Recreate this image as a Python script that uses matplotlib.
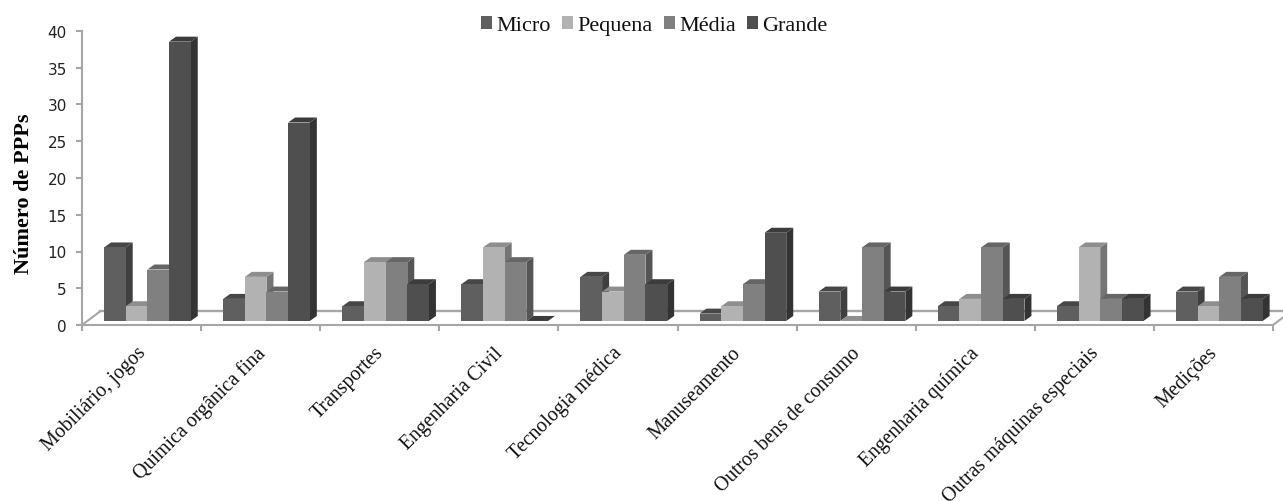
import numpy as np
import matplotlib.pyplot as plt
from matplotlib.patches import Polygon, Rectangle

categories = ['Mobiliário, jogos', 'Química orgânica fina', 'Transportes', 'Engenharia Civil',
              'Tecnologia médica', 'Manuseamento', 'Outros bens de consumo', 'Engenharia química',
              'Outras máquinas especiais', 'Medições']
sizes = ['Micro', 'Pequena', 'Média', 'Grande']
micro = [10, 3, 2, 5, 6, 1, 4, 2, 2, 4]
pequena = [2, 6, 8, 10, 4, 2, 0, 3, 10, 2]
media = [7, 4, 8, 8, 9, 5, 10, 10, 3, 6]
grande = [38, 27, 5, 0, 5, 12, 4, 3, 3, 3]
series = [micro, pequena, media, grande]

front = ['#5f5f5f', '#b2b2b2', '#808080', '#4f4f4f']
side = ['#3f3f3f', '#757575', '#555555', '#333333']
top = ['#474747', '#8e8e8e', '#666666', '#3c3c3c']
axis_col = '#a6a6a6'

W, H = 1283, 502
fig = plt.figure(figsize=(W / 100, H / 100), dpi=100)
ax = fig.add_axes([82 / W, 1 - 326 / H, 1191 / W, 294 / H])
ax.set_xlim(0, 10)
ax.set_ylim(0, 40)

# fake 3d depth, in data units
dx = 7 / 119.1
dy = 5 / 7.35
lift = 0.55
bar_w = 0.182
start = 0.185
floor_dx = 18 / 119.1
floor_dy = 1.84

# floor of the chart
ax.plot([0, floor_dx], [0, floor_dy], color=axis_col, lw=1.5, clip_on=False, zorder=1)
ax.plot([floor_dx, 10 + floor_dx], [floor_dy, floor_dy], color=axis_col, lw=1.7, clip_on=False, zorder=1)
ax.plot([10, 10 + floor_dx], [0, floor_dy], color=axis_col, lw=1.5, clip_on=False, zorder=1)

for i in range(len(categories)):
    for j, vals in enumerate(series):
        x0 = i + start + j * bar_w
        x1 = x0 + bar_w
        y1 = vals[i] + lift
        z = 3 + j * 2
        # right side then top, the next bar's front covers the side
        ax.add_patch(Polygon([(x1, lift), (x1 + dx, lift + dy), (x1 + dx, y1 + dy), (x1, y1)],
                             fc=side[j], ec='none', zorder=z))
        ax.add_patch(Polygon([(x0, y1), (x0 + dx, y1 + dy), (x1 + dx, y1 + dy), (x1, y1)],
                             fc=top[j], ec='none', zorder=z))
        ax.bar(x0, vals[i], width=bar_w, bottom=lift, align='edge', color=front[j], zorder=z + 1)

for s in ['top', 'right']:
    ax.spines[s].set_visible(False)
for s in ['left', 'bottom']:
    ax.spines[s].set_color(axis_col)
    ax.spines[s].set_linewidth(1.5)

ax.set_yticks(np.arange(0, 45, 5))
ax.tick_params(axis='y', colors=axis_col, length=4, width=1.5, labelcolor='#222222', labelsize=11, pad=7)
ax.set_xticks(np.arange(0, 11))
ax.set_xticklabels([])
ax.tick_params(axis='x', which='major', colors=axis_col, length=4, width=1.5)
ax.set_xticks(np.arange(len(categories)) + 0.455, minor=True)
ax.set_xticklabels(categories, minor=True, rotation=45, ha='right', rotation_mode='anchor',
                   family='Liberation Serif', fontsize=14.3, color='#111111')
ax.tick_params(axis='x', which='minor', length=0, pad=13)

ax.set_ylabel('Número de PPPs', family='Liberation Serif', fontweight='bold', fontsize=16,
              color='black', labelpad=9.5, y=0.449)

handles = [Rectangle((0, 0), 1, 1, fc=c, ec='none') for c in front]
ax.legend(handles, sizes, ncol=4, loc='center', bbox_to_anchor=(0.4805, 1.018), frameon=False,
          prop={'family': 'Liberation Serif', 'size': 16}, handlelength=0.5, handleheight=0.5,
          handletextpad=0.2, columnspacing=0.5, labelcolor='#111111', borderpad=0)

fig.savefig('out.png', dpi=100)
